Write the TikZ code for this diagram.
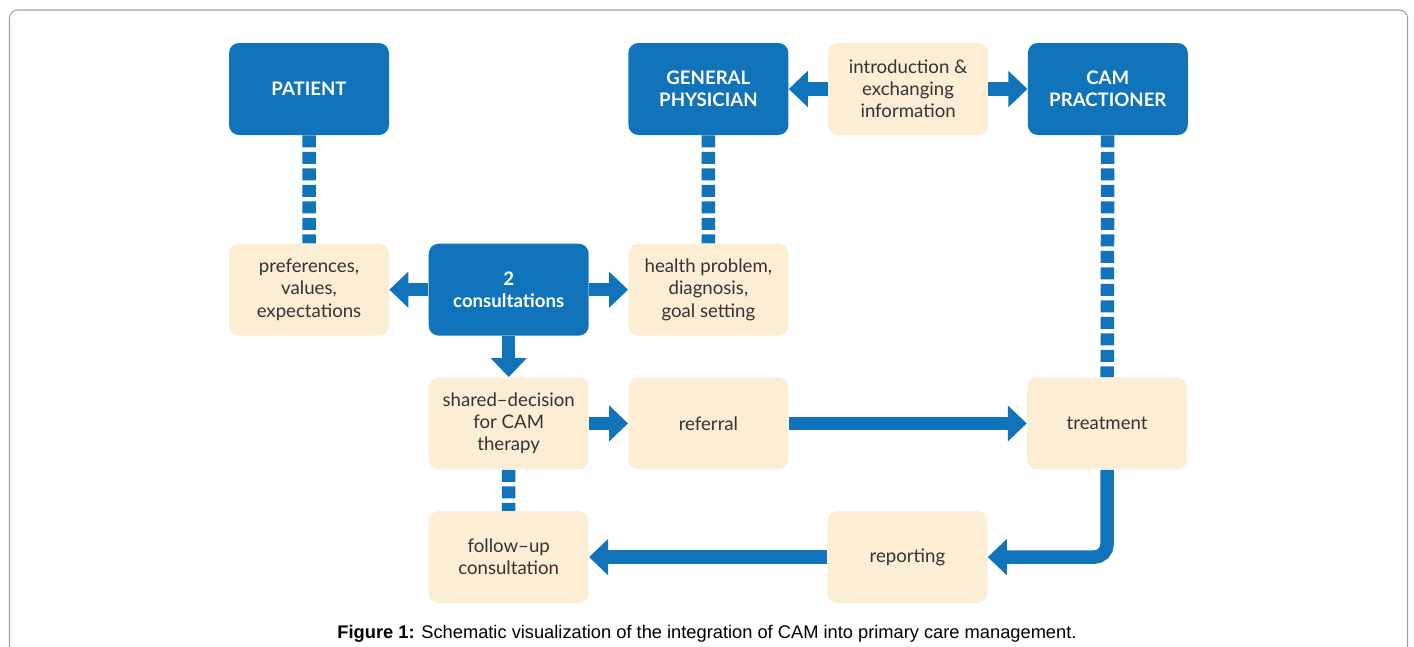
\documentclass[tikz,border=0pt]{standalone}
\usepackage{fontspec}
\setmainfont{Lato}
\newfontfamily\capfont{Liberation Sans}
\usetikzlibrary{positioning, arrows.meta}
\definecolor{camblue}{RGB}{17,115,186}
\definecolor{cambeige}{RGB}{251,238,213}
\definecolor{camtext}{RGB}{51,51,51}
\definecolor{framegray}{RGB}{160,160,160}

\begin{document}
\begin{tikzpicture}[
	box/.style={rectangle, rounded corners=0.2cm, minimum width=3.2cm, minimum height=1.84cm, inner sep=0pt, align=center, font=\fontsize{10.6}{12.6}\selectfont},
	actor/.style={box, fill=camblue, text=white, font=\fontsize{10.6}{12.6}\selectfont\bfseries},
	note/.style={box, fill=cambeige, text=camtext},
	link/.style={draw=camblue, line width=0.27cm, dash pattern=on 0.24cm off 0.09cm},
	flow/.style={draw=camblue, line width=0.27cm, -{Triangle[length=0.38cm, width=0.7cm]}}
	]
	\clip (0,0) rectangle (28.28,-12.92);
	\draw[framegray, line width=0.6pt, rounded corners=0.16cm] (0.19,-0.2) rectangle (28.15,-13.6);
	
	% top row
	\node[actor] (patient) at (6.18,-1.78) {PATIENT};
	\node[note] (prefs) [below =2.16cm of patient] {preferences,\\values,\\expectations};
	\node[actor] (consult) [right =0.78cm of prefs] {2\\consultations};
	\node[note] (health) [right =0.78cm of consult] {health problem,\\diagnosis,\\goal setting};
	\node[actor] (gp) [above =2.16cm of health] {GENERAL\\PHYSICIAN};
	\node[note] (info) [right =0.78cm of gp] {introduction \&\\exchanging\\information};
	\node[actor] (cam) [right =0.78cm of info] {CAM\\PRACTIONER};
	
	% lower rows
	\node[note] (shared) [below =0.82cm of consult] {shared--decision\\for CAM\\therapy};
	\node[note] (referral) [right =0.78cm of shared] {referral};
	\node[note] (treat) [right =4.76cm of referral] {treatment};
	\node[note] (followup) [below =0.82cm of shared] {follow--up\\consultation};
	\node[note] (report) [right =4.76cm of followup] {reporting};
	
	\path[link]
	(patient) -- (prefs)
	(gp) -- (health)
	(cam) -- (treat)
	(shared) -- (followup);
	
	\draw[flow] (info) -- (gp);
	\draw[flow] (info) -- (cam);
	\draw[flow] (consult) -- (prefs);
	\draw[flow] (consult) -- (health);
	\draw[flow] (consult) -- (shared);
	\draw[flow] (shared) -- (referral);
	\draw[flow] (referral) -- (treat);
	\draw[flow, rounded corners=0.26cm] (treat.south) |- (report.east);
	\draw[flow] (report) -- (followup);
	
	\node[font=\capfont\fontsize{10.4}{12}\selectfont] (caption) at (14.14,-12.68) {\textbf{Figure 1:} Schematic visualization of the integration of CAM into primary care management.};
\end{tikzpicture}
\end{document}
